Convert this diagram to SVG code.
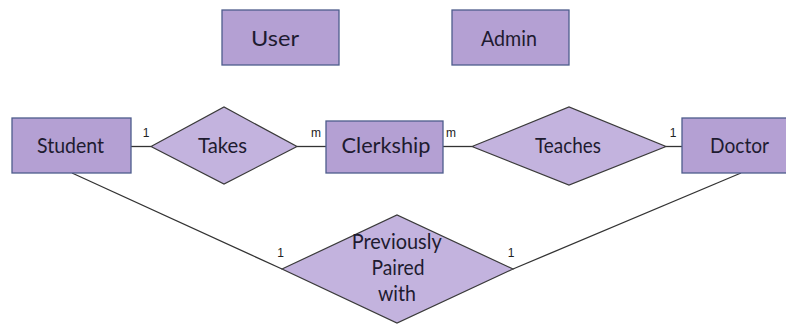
<svg xmlns="http://www.w3.org/2000/svg" width="786" height="324" viewBox="0 0 786 324">
<style>
.ent{fill:#b4a0d3;stroke:#4e5c8c;stroke-width:1.3}
.rel{fill:#c3b3de;stroke:#3a3a3a;stroke-width:1.2}
.t{font-family:Lato,"Open Sans",sans-serif;font-size:21.5px;fill:#1e1b30;text-anchor:middle}
.c{font-family:"Liberation Sans",Arial,sans-serif;font-size:12px;fill:#222;text-anchor:middle}
.ln{stroke:#333;stroke-width:1.3;fill:none}
</style>
<rect width="786" height="324" fill="#ffffff"/>
<g id="connectors">
<line class="ln" x1="131" y1="146.5" x2="151" y2="146.5"/>
<line class="ln" x1="297" y1="146.5" x2="326" y2="146.5"/>
<line class="ln" x1="443" y1="146.5" x2="472" y2="146.5"/>
<line class="ln" x1="666" y1="146.5" x2="682" y2="146.5"/>
<line class="ln" x1="72" y1="173" x2="282" y2="269"/>
<line class="ln" x1="741" y1="173" x2="513" y2="269"/>
<text class="c" x="146" y="137">1</text>
<text class="c" x="316" y="137">m</text>
<text class="c" x="451" y="137">m</text>
<text class="c" x="673" y="137">1</text>
<text class="c" x="280.5" y="257">1</text>
<text class="c" x="511" y="257">1</text>
</g>
<g id="user">
<rect class="ent" x="222" y="10" width="117" height="55"/>
<text class="t" x="275" y="45.5" textLength="48" lengthAdjust="spacingAndGlyphs">User</text>
</g>
<g id="admin">
<rect class="ent" x="452" y="10" width="117" height="55"/>
<text class="t" x="509" y="45.5" textLength="56" lengthAdjust="spacingAndGlyphs">Admin</text>
</g>
<g id="student">
<rect class="ent" x="12" y="118" width="119" height="55"/>
<text class="t" x="70.5" y="153" textLength="67" lengthAdjust="spacingAndGlyphs">Student</text>
</g>
<g id="takes">
<polygon class="rel" points="151,146.5 224,107 297,146.5 224,184"/>
<text class="t" x="222.5" y="153" textLength="49" lengthAdjust="spacingAndGlyphs">Takes</text>
</g>
<g id="clerkship">
<rect class="ent" x="326" y="121" width="117" height="52"/>
<text class="t" x="386" y="153" textLength="89" lengthAdjust="spacingAndGlyphs">Clerkship</text>
</g>
<g id="teaches">
<polygon class="rel" points="472,146.5 569,107 666,146.5 569,185"/>
<text class="t" x="568" y="153" textLength="66" lengthAdjust="spacingAndGlyphs">Teaches</text>
</g>
<g id="doctor">
<rect class="ent" x="682" y="118" width="117" height="55"/>
<text class="t" x="739.5" y="153" textLength="59" lengthAdjust="spacingAndGlyphs">Doctor</text>
</g>
<g id="previously-paired-with">
<polygon class="rel" points="282,269 397,215 513,269 397,323"/>
<text class="t" x="396.7" y="249" textLength="90" lengthAdjust="spacingAndGlyphs">Previously</text>
<text class="t" x="398" y="275" textLength="53" lengthAdjust="spacingAndGlyphs">Paired</text>
<text class="t" x="397" y="301" textLength="38" lengthAdjust="spacingAndGlyphs">with</text>
</g>
</svg>
